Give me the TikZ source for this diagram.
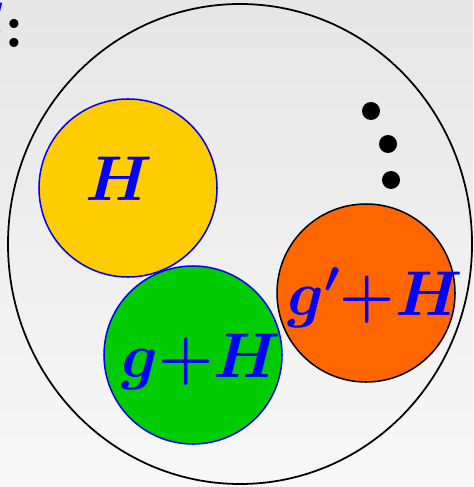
\documentclass[tikz,border=0pt]{standalone}
\usepackage{fix-cm}
\usepackage{xcolor}
\usepackage{tikz}

\definecolor{cosetyellow}{HTML}{FFCC00}
\definecolor{cosetgreen}{HTML}{00CC00}
\definecolor{cosetorange}{HTML}{FF6600}

\begin{document}
\begin{tikzpicture}[
    x=0.03cm,
    y=-0.03cm,
    coset/.style={
        circle,
        draw=blue,
        line width=1.3pt,
        minimum size=178*0.03cm,
        inner sep=0pt
    },
    cosetlabel/.style={
        anchor=base west,
        inner sep=0pt,
        text=blue,
        font=\fontsize{54}{60}\selectfont\boldmath
    },
    dot/.style={
        circle,
        fill=black,
        minimum size=18*0.03cm,
        inner sep=0pt
    }
]

% Background of the slide
\shade[
    top color=black!10,
    bottom color=black!3
] (0,0) rectangle (473,487);
\useasboundingbox (0,0) rectangle (473,487);

% Group G: the big ellipse
\draw[
    line width=1.5pt
] (240,244) ellipse [x radius=232, y radius=240];

\node[
    cosetlabel,
    anchor=base east,
    text=black
] (glabel) at (25,48) {{\color{blue}$G$}$:$};

% Cosets
\node[
    coset,
    fill=cosetyellow
] (h) at (128,188) {};

\node[
    coset,
    fill=cosetgreen
] (gh) at (193,355) {};

\node[
    coset,
    fill=cosetorange,
    draw=black
] (gph) at (366,293) {};

\node[
    cosetlabel
] (hlabel) at (85,200) {$H$};

\node[
    cosetlabel
] (ghlabel) at (121,377) {$g{+}H$};

\node[
    cosetlabel
] (gphlabel) at (287,315) {$g'{+}H$};

% More cosets
\node[dot] (dot1) at (371,111) {};
\node[dot] (dot2) at (388,144) {};
\node[dot] (dot3) at (391,180) {};

\end{tikzpicture}
\end{document}
